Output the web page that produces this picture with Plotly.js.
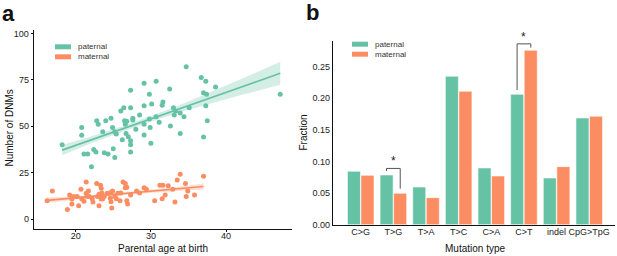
<!DOCTYPE html>
<html>
<head>
<meta charset="utf-8">
<script src="https://cdn.plot.ly/plotly-3.0.1.min.js"></script>
<style>html,body{margin:0;padding:0;background:#fff;}#chart{width:617px;height:256px;}</style>
</head>
<body>
<div id="chart"></div>
<script>
// ---- Panel a data ----
const paternalAge = [18.2,20.8,20.8,21.1,21.6,22.1,22.4,22.7,22.8,23.0,23.6,23.8,24.0,24.3,24.7,24.9,25.0,25.2,25.2,25.4,26.0,26.4,26.2,26.5,26.6,26.7,26.8,27.0,27.3,27.3,27.3,27.3,27.3,27.6,27.6,28.0,28.5,29.1,29.1,29.1,29.1,29.8,29.9,29.8,30.0,30.1,30.7,30.7,31.1,31.5,31.6,32.5,32.6,33.0,33.1,33.3,33.9,33.9,34.4,34.7,35.1,36.7,37.0,37.0,37.3,37.3,37.4,37.5,38.6,47.2];
const paternalDNM = [40.1,49.3,45.2,35.1,35.1,28.3,37.5,36.2,53.0,51.1,47.1,35.8,53.0,35.1,54.3,49.3,38.0,47.1,33.2,45.9,58.2,60.0,42.8,53.0,51.1,46.1,52.7,44.4,69.4,60.0,42.3,40.1,36.2,54.3,53.4,48.4,56.1,61.1,51.1,45.3,73.1,53.9,49.3,67.2,40.9,62.0,74.2,55.2,52.2,61.3,63.1,70.1,50.2,60.0,56.1,58.2,57.2,46.1,55.2,82.1,60.0,76.2,44.3,68.1,74.2,61.1,67.2,53.0,71.1,67.2];
const maternalAge = [16.2,16.9,18.9,19.2,19.5,19.5,19.7,20.2,20.4,20.7,20.8,21.1,21.4,21.4,21.5,21.7,21.8,22.2,22.3,22.8,22.9,23.1,23.1,23.2,23.3,23.4,23.4,23.5,23.6,23.8,24.2,24.6,24.7,24.8,24.7,24.9,25.2,25.4,25.6,25.9,26.0,26.3,26.6,26.6,26.8,26.8,26.9,27.3,28.1,28.5,29.1,29.4,30.5,31.2,31.5,31.6,31.9,32.3,32.9,33.2,33.5,33.9,34.6,34.7,34.9,35.8,37.0];
const maternalDNM = [10.0,15.2,5.2,13.1,8.2,10.9,12.2,12.2,7.3,16.1,11.1,9.7,20.1,14.0,12.2,15.2,12.2,11.1,9.3,19.2,12.2,13.4,7.3,12.2,18.3,16.7,10.9,14.2,11.1,12.2,14.0,11.3,14.5,6.1,9.5,15.2,12.2,11.1,14.0,10.0,14.2,20.1,19.2,17.0,17.2,10.0,8.2,13.1,15.2,14.2,17.0,16.1,10.0,18.3,11.1,18.3,13.1,18.1,16.1,9.3,21.1,24.2,19.2,12.2,15.2,13.1,23.1];
// fitted lines and confidence bands
const patFitX = [18.2,22,26,30,34,38,42,47.2];
const patFitY = [37.2,42.6,48.3,54.0,59.7,65.4,71.1,78.5];
const patFitLo = [34.4,40.7,46.8,52.5,57.7,62.4,66.8,72.3];
const patFitHi = [40.0,44.5,49.8,55.5,61.7,68.4,75.4,84.7];
const matFitX = [16.2,20,25,30,34,37];
const matFitY = [10.2,11.5,13.3,15.1,16.5,17.6];
const matFitLo = [8.7,10.6,12.6,14.3,15.3,16.0];
const matFitHi = [11.7,12.4,14.0,15.9,17.7,19.2];

// ---- Panel b data ----
const mutationTypes = ['C>G','T>G','T>A','T>C','C>A','C>T','indel','CpG>TpG'];
const paternalFrac = [0.0844,0.0786,0.0596,0.2347,0.0897,0.2062,0.0738,0.1688];
const maternalFrac = [0.0780,0.0496,0.0427,0.2110,0.0770,0.2758,0.0918,0.1714];
const sigCats = ['T>G','C>T'];
const sigTop = [0.089,0.286];
const sigLeftEnd = [0.085,0.213];
const sigRightEnd = [0.057,0.280];

const green = '#66c2a5', orange = '#fc8d62';
const FONT = 'Liberation Sans, Arial, sans-serif';

const traces = [
  {x: patFitX, y: patFitLo, xaxis:'x', yaxis:'y', mode:'lines', line:{width:0}, hoverinfo:'skip', showlegend:false},
  {x: patFitX, y: patFitHi, xaxis:'x', yaxis:'y', mode:'lines', line:{width:0}, fill:'tonexty', fillcolor:'rgba(102,194,165,0.28)', hoverinfo:'skip', showlegend:false},
  {x: matFitX, y: matFitLo, xaxis:'x', yaxis:'y', mode:'lines', line:{width:0}, hoverinfo:'skip', showlegend:false},
  {x: matFitX, y: matFitHi, xaxis:'x', yaxis:'y', mode:'lines', line:{width:0}, fill:'tonexty', fillcolor:'rgba(252,141,98,0.28)', hoverinfo:'skip', showlegend:false},
  {x: paternalAge, y: paternalDNM, xaxis:'x', yaxis:'y', mode:'markers', marker:{color:green, size:5}, showlegend:false},
  {x: maternalAge, y: maternalDNM, xaxis:'x', yaxis:'y', mode:'markers', marker:{color:orange, size:5}, showlegend:false},
  {x: patFitX, y: patFitY, xaxis:'x', yaxis:'y', mode:'lines', line:{color:green, width:1.6}, showlegend:false},
  {x: matFitX, y: matFitY, xaxis:'x', yaxis:'y', mode:'lines', line:{color:orange, width:1.6}, showlegend:false},
  {type:'bar', x: mutationTypes, y: paternalFrac, xaxis:'x2', yaxis:'y2', name:'paternal', marker:{color:green, line:{color:'rgba(255,255,255,0.55)', width:1}}, showlegend:false},
  {type:'bar', x: mutationTypes, y: maternalFrac, xaxis:'x2', yaxis:'y2', name:'maternal', marker:{color:orange, line:{color:'rgba(255,255,255,0.55)', width:1}}, showlegend:false}
];

const shapes = [];
const annotations = [];
// significance brackets
sigCats.forEach((c, k) => {
  const i = mutationTypes.indexOf(c);
  const xl = i - 0.21, xr = i + 0.21;
  const st = {type:'line', xref:'x2', yref:'y2', line:{color:'#555', width:1}};
  shapes.push(Object.assign({x0:xl, x1:xr, y0:sigTop[k], y1:sigTop[k]}, st));
  shapes.push(Object.assign({x0:xl, x1:xl, y0:sigTop[k], y1:sigLeftEnd[k]}, st));
  shapes.push(Object.assign({x0:xr, x1:xr, y0:sigTop[k], y1:sigRightEnd[k]}, st));
  annotations.push({xref:'x2', yref:'y2', x:i, y:sigTop[k], yshift:7, text:'*', showarrow:false, font:{family:FONT, size:12, color:'#222'}});
});

// legends (custom keys)
function legend(x0, yTop, labels, colors) {
  labels.forEach((lab, j) => {
    const yc = yTop + j * 10;
    shapes.push({type:'rect', xref:'paper', yref:'paper', x0:x0/617, x1:(x0+16)/617, y0:1-(yc+2.5)/256, y1:1-(yc-2.5)/256, fillcolor:colors[j], line:{width:0}});
    annotations.push({xref:'paper', yref:'paper', x:(x0+21)/617, y:1-yc/256, xanchor:'left', yanchor:'middle', text:lab, showarrow:false, font:{family:FONT, size:8, color:'#333'}});
  });
}
legend(55, 46.8, ['paternal','maternal'], [green, orange]);
legend(352, 44.2, ['paternal','maternal'], [green, orange]);

// panel letters & axis titles
annotations.push({xref:'paper', yref:'paper', x:0/617, y:1-13/256, xanchor:'left', yanchor:'middle', text:'<b>a</b>', showarrow:false, font:{family:FONT, size:22, color:'#111'}});
annotations.push({xref:'paper', yref:'paper', x:304/617, y:1-12/256, xanchor:'left', yanchor:'middle', text:'<b>b</b>', showarrow:false, font:{family:FONT, size:22, color:'#111'}});
annotations.push({xref:'paper', yref:'paper', x:163/617, y:1-248.5/256, xanchor:'center', yanchor:'middle', text:'Parental age at birth', showarrow:false, font:{family:FONT, size:10, color:'#111'}});
annotations.push({xref:'paper', yref:'paper', x:8.5/617, y:1-128/256, xanchor:'center', yanchor:'middle', text:'Number of DNMs', textangle:-90, showarrow:false, font:{family:FONT, size:10, color:'#111'}});
annotations.push({xref:'paper', yref:'paper', x:475/617, y:1-248.5/256, xanchor:'center', yanchor:'middle', text:'Mutation type', showarrow:false, font:{family:FONT, size:10, color:'#111'}});
annotations.push({xref:'paper', yref:'paper', x:302.5/617, y:1-133/256, xanchor:'center', yanchor:'middle', text:'Fraction', textangle:-90, showarrow:false, font:{family:FONT, size:10, color:'#111'}});

const axBase = {showgrid:false, zeroline:false, showline:true, linecolor:'#111', tickfont:{family:FONT, size:9, color:'#222'}, fixedrange:true};

const layout = {
  width:617, height:256,
  margin:{l:0, r:0, t:0, b:0},
  paper_bgcolor:'#fff', plot_bgcolor:'#fff',
  showlegend:false,
  barmode:'group', bargap:0.17, bargroupgap:0.04,
  xaxis: Object.assign({}, axBase, {domain:[0.0556,0.4737], range:[14.5,48.8], tickvals:[20,30,40], ticks:'outside', ticklen:2, tickcolor:'#111', linewidth:1.6, anchor:'y', ticklabelstandoff:-4}),
  yaxis: Object.assign({}, axBase, {domain:[0.1067,0.8828], range:[-5.05,101.8], tickvals:[0,25,50,75,100], ticks:'outside', ticklen:2, tickcolor:'#111', linewidth:1.6, anchor:'x'}),
  xaxis2: Object.assign({}, axBase, {domain:[0.5402,0.9968], range:[-0.84,7.79], type:'category', ticks:'', linewidth:1.4, anchor:'y2', ticklabelstandoff:-2}),
  yaxis2: Object.assign({}, axBase, {domain:[0.1223,0.841], range:[0,0.291], tickvals:[0,0.05,0.10,0.15,0.20,0.25], tickformat:'.2f', ticks:'', linewidth:1.4, anchor:'x2'}),
  shapes: shapes,
  annotations: annotations
};

Plotly.newPlot('chart', traces, layout, {staticPlot:true, displayModeBar:false});
</script>
</body>
</html>
